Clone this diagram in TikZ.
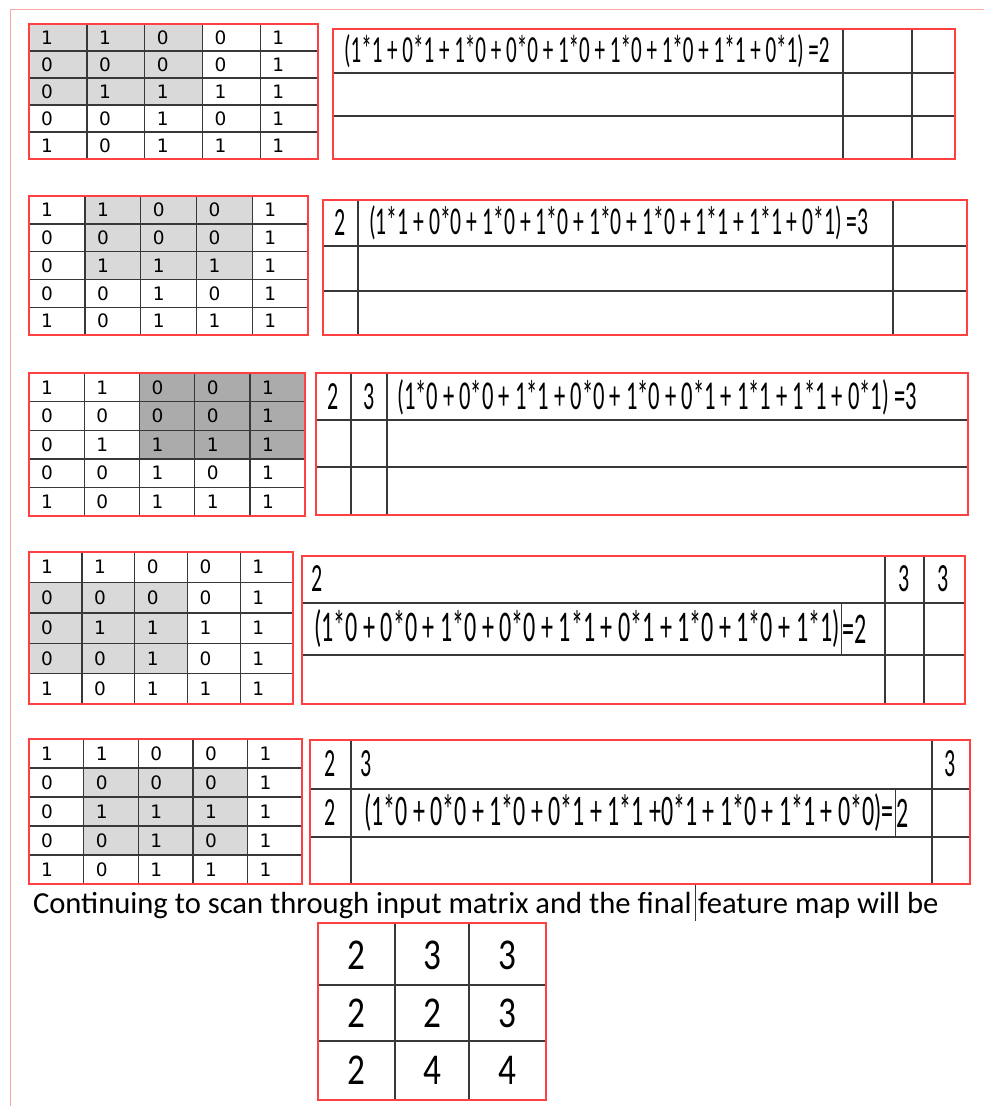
\documentclass[tikz,border=0pt]{standalone}
\usepackage{fontspec}
\setmainfont{Carlito}
\newfontfamily\cellfont{DejaVu Sans}
\newfontfamily\sumfont[FakeStretch=0.55]{Carlito}
\newfontfamily\mapfont[FakeStretch=0.8]{Carlito}
\colorlet{lightcell}{black!15}
\colorlet{darkcell}{black!33}
\colorlet{boxred}{red!75}

\begin{document}
\begin{tikzpicture}[x=1pt, y=-1pt,
  gridline/.style={draw=black!78, line width=1.4pt},
  redbox/.style={draw=boxred, line width=1.1pt},
  cell/.style={anchor=west, inner sep=0pt, font=\cellfont\fontsize{18.5}{18.5}\selectfont},
  sumtext/.style={anchor=west, inner sep=0pt, font=\sumfont\fontsize{#1}{#1}\selectfont},
  sumtext/.default=40,
  linetext/.style={inner sep=0pt, font=\fontsize{30.6}{30.6}\selectfont},
  mapdigit/.style={inner sep=0pt, font=\mapfont\fontsize{44}{44}\selectfont}]
  \useasboundingbox (0,0) rectangle (984,1106);
  \draw[draw=red!35, line width=1pt] (984,9) -- (10,9) -- (10,1106);

  % input matrix with the 3x3 window, one per step
  \foreach \px/\py/\cw/\ch/\sc/\sr/\sh [count=\p] in
    {29/24/57.8/27/0/0/lightcell, 29/196/55.8/27.8/1/0/lightcell,
     29/373/55.2/28.6/2/0/darkcell, 29/552/52.8/30.4/0/1/lightcell,
     29/739/54.6/29/1/1/lightcell}
  {
    \fill[fill=\sh] (\px+\sc*\cw, \py+\sr*\ch) rectangle ++(3*\cw, 3*\ch);
    \foreach \i in {0,...,5} {
      \draw[gridline] (\px+\i*\cw, \py) -- ++(0, 5*\ch);
      \draw[gridline] (\px, \py+\i*\ch) -- ++(5*\cw, 0);
    }
    \foreach \row [count=\r from 0] in {{1,1,0,0,1},{0,0,0,0,1},{0,1,1,1,1},{0,0,1,0,1},{1,0,1,1,1}}
      \foreach \v [count=\c from 0] in \row
        \node[cell] (in\p-\r-\c) at (\px+\c*\cw+12, \py+\r*\ch+\ch/2) {\v};
    \draw[redbox] (\px, \py) rectangle ++(5*\cw, 5*\ch);
  }

  % step 1
  \draw[gridline] (333,29) rectangle (955,159);
  \draw[gridline] (843,29) -- (843,159) (912,29) -- (912,159) (333,73) -- (955,73) (333,116) -- (955,116);
  \draw[redbox] (333,29) rectangle (955,159);
  \node[sumtext=38.3] (sum1) at (344,51) {(1*1 + 0*1 + 1*0 + 0*0 + 1*0 + 1*0 + 1*0 + 1*1 + 0*1) =2};

  % step 2
  \draw[gridline] (323,200) rectangle (967,335);
  \draw[gridline] (358,200) -- (358,335) (893,200) -- (893,335) (323,246) -- (967,246) (323,291) -- (967,291);
  \draw[redbox] (323,200) rectangle (967,335);
  \node[sumtext, anchor=center] (out2a) at (340,223) {2};
  \node[sumtext=39.4] (sum2) at (369,223) {(1*1 + 0*0 + 1*0 + 1*0 + 1*0 + 1*0 + 1*1 + 1*1 + 0*1) =3};

  % step 3
  \draw[gridline] (316,373) rectangle (968,515);
  \draw[gridline] (351,373) -- (351,515) (387,373) -- (387,515) (316,420) -- (968,420) (316,467) -- (968,467);
  \draw[redbox] (316,373) rectangle (968,515);
  \node[sumtext, anchor=center] (out3a) at (333,397) {2};
  \node[sumtext, anchor=center] (out3b) at (369,397) {3};
  \node[sumtext=41] (sum3) at (397,397) {(1*0 + 0*0 + 1*1 + 0*0 + 1*0 + 0*1 + 1*1 + 1*1 + 0*1) =3};

  % step 4
  \draw[gridline] (302,556) rectangle (965,704);
  \draw[gridline] (885,556) -- (885,704) (924,556) -- (924,704) (302,603) -- (965,603) (302,655) -- (965,655);
  \draw[gridline, line width=1pt] (841,603) -- (841,655);
  \draw[redbox] (302,556) rectangle (965,704);
  \node[sumtext] (out4a) at (311,579) {2};
  \node[sumtext, anchor=center] (out4b) at (904,579) {3};
  \node[sumtext, anchor=center] (out4c) at (943,579) {3};
  \node[sumtext=43.8, anchor=east] (sum4) at (840,629) {(1*0 + 0*0 + 1*0 + 0*0 + 1*1 + 0*1 + 1*0 + 1*0 + 1*1)};
  \node[sumtext=43.8] (res4) at (842,629) {=2};

  % step 5
  \draw[gridline] (310,740) rectangle (970,884);
  \draw[gridline] (351,740) -- (351,884) (932,740) -- (932,884) (310,789) -- (970,789) (310,837) -- (970,837);
  \draw[gridline, line width=1pt] (895,789) -- (895,837);
  \draw[redbox] (310,740) rectangle (970,884);
  \node[sumtext, anchor=center] (out5a) at (330,764) {2};
  \node[sumtext] (out5b) at (360,764) {3};
  \node[sumtext, anchor=center] (out5c) at (950,764) {3};
  \node[sumtext, anchor=center] (out5d) at (330,813) {2};
  \node[sumtext=43.6, anchor=east] (sum5) at (894,813) {(1*0 + 0*0 + 1*0 + 0*1 + 1*1 +0*1 + 1*0 + 1*1 + 0*0)=};
  \node[sumtext=43.6] (res5) at (896,813) {2};

  % closing sentence and final feature map
  \node[linetext, anchor=base east] (scan1) at (692,913) {Continuing to scan through input matrix and the final};
  \node[linetext, anchor=base west] (scan2) at (698,913) {feature map will be};
  \draw[black!80, line width=1pt] (695,885) -- (695,921);

  \draw[gridline] (318,923) rectangle (546,1100);
  \draw[gridline] (395,923) -- (395,1100) (469,923) -- (469,1100) (318,985) -- (546,985) (318,1041) -- (546,1041);
  \draw[redbox] (318,923) rectangle (546,1100);
  \node[mapdigit] (f11) at (356,955) {2};
  \node[mapdigit] (f12) at (432,955) {3};
  \node[mapdigit] (f13) at (507,955) {3};
  \node[mapdigit] (f21) at (356,1013) {2};
  \node[mapdigit] (f22) at (432,1013) {2};
  \node[mapdigit] (f23) at (507,1013) {3};
  \node[mapdigit] (f31) at (356,1070) {2};
  \node[mapdigit] (f32) at (432,1070) {4};
  \node[mapdigit] (f33) at (507,1070) {4};
\end{tikzpicture}
\end{document}
